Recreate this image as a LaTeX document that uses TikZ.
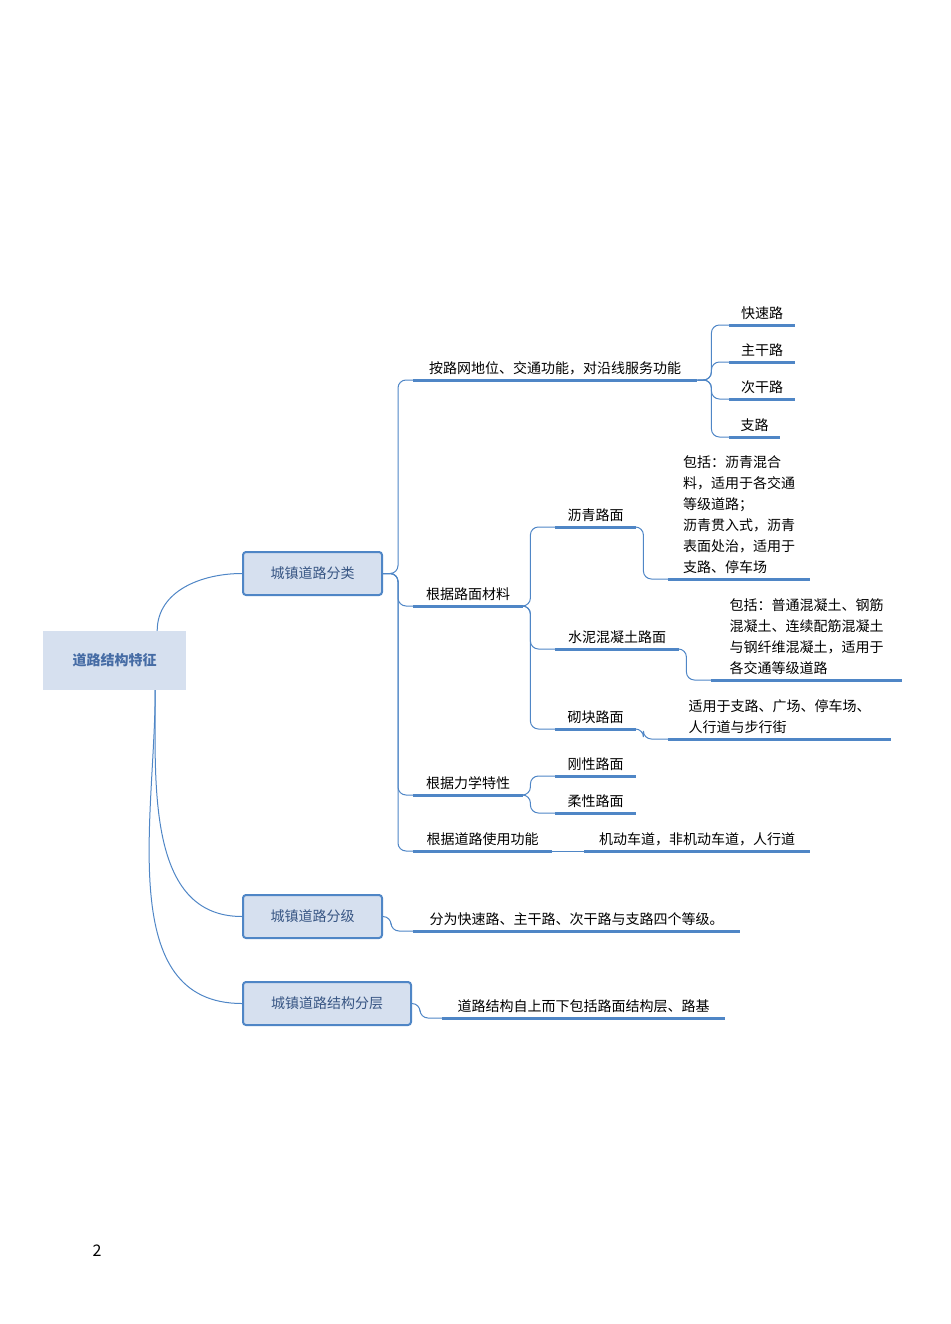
\documentclass[tikz,border=0pt]{standalone}
\usepackage{fontspec}
\setmainfont{Noto Sans CJK SC}
\usetikzlibrary{positioning}
\definecolor{lineblue}{RGB}{79,134,198}
\definecolor{boxfill}{RGB}{214,224,239}
\definecolor{rootblue}{RGB}{70,108,165}
\tikzset{
  base_font/.style = {font=\fontsize{14}{21}\selectfont},
  topic/.style = {base_font, anchor=south west, inner xsep=11, inner ysep=5, align=left, minimum width=#1},
  ul/.style = {draw=lineblue, line width=3},
  link/.style = {draw=lineblue, line width=1, rounded corners=8},
  curve/.style = {draw=lineblue, line width=1},
  mainbox/.style = {base_font, draw=lineblue, line width=2, fill=boxfill, rounded corners=3,
    minimum height=43, anchor=west, text=rootblue!80!black, inner xsep=24}
}
\begin{document}
\begin{tikzpicture}[x=1pt, y=-1pt]
  \useasboundingbox (0,0) rectangle (950,1324);

  % Root and first level
  \node[base_font, fill=boxfill, minimum width=143, minimum height=59, text=rootblue, font=\fontsize{14}{21}\selectfont\bfseries] (root) at (114.5,660.5) {道路结构特征};
  \node[mainbox, minimum width=139] (cls) at (242,573.5) {城镇道路分类};
  \node[mainbox, minimum width=139] (grd) at (242,916.5) {城镇道路分级};
  \node[mainbox, minimum width=168] (lay) at (242,1003.5) {城镇道路结构分层};

  \draw[curve] ([xshift=-29]root.north east) to[out=90,in=180] (cls.west);
  \draw[curve] ([xshift=-31]root.south east) to[out=-90,in=180] (grd.west);
  \draw[curve] ([xshift=-31]root.south east) to[out=-90,in=180] (lay.west);

  % Second level
  \node[topic=284] (net) at (413,380) {按路网地位、交通功能，对沿线服务功能};
  \node[topic=110] (mat) at (413,606) {根据路面材料};
  \node[topic=110] (mech) at (413,795) {根据力学特性};
  \node[topic=139] (use) at (413,851) {根据道路使用功能};
  \node[topic=327] (grdtxt) at (413,931) {分为快速路、主干路、次干路与支路四个等级。};
  \node[topic=283] (laytxt) at (442,1018) {道路结构自上而下包括路面结构层、路基};

  \foreach \n in {net,mat,mech,use,grdtxt,laytxt}
    \draw[ul] (\n.south west) -- (\n.south east);
  \foreach \n in {net,mat,mech,use}
    \draw[link] (cls.east) -- ++(15,0) |- (\n.south west);
  \draw[link] (grd.east) -- ++(8,0) |- (grdtxt.south west);
  \draw[link] (lay.east) -- ++(8,0) |- (laytxt.south west);

  % Road grades
  \node[topic=66] (r1) at (729,325) {快速路};
  \node[topic=66] (r2) at (729,362) {主干路};
  \node[topic=66] (r3) at (729,399) {次干路};
  \node[topic=51] (r4) at (729,437) {支路};
  \foreach \n in {r1,r2,r3,r4} {
    \draw[ul] (\n.south west) -- (\n.south east);
    \draw[link] (net.south east) -- ++(14,0) |- (\n.south west);
  }

  % Materials
  \node[topic=81] (asph) at (555,527) {沥青路面};
  \node[topic=124] (conc) at (555,649) {水泥混凝土路面};
  \node[topic=81] (blk) at (555,729) {砌块路面};
  \foreach \n in {asph,conc,blk} {
    \draw[ul] (\n.south west) -- (\n.south east);
    \draw[link] (mat.south east) -- ++(7,0) |- (\n.south west);
  }
  \node[topic=142] (asphtxt) at (668,579) {包括：沥青混合\\料，适用于各交通\\等级道路；\\沥青贯入式，沥青\\表面处治，适用于\\支路、停车场};
  \node[topic=191] (conctxt) at (711,680) {包括：普通混凝土、钢筋\\混凝土、连续配筋混凝土\\与钢纤维混凝土，适用于\\各交通等级道路};
  \node[topic=223] (blktxt) at (668,739) {适用于支路、广场、停车场、\\人行道与步行街};
  \foreach \a/\b in {asph/asphtxt,conc/conctxt,blk/blktxt} {
    \draw[ul] (\b.south west) -- (\b.south east);
    \draw[link] (\a.south east) -- ++(7,0) |- (\b.south west);
  }

  % Mechanics
  \node[topic=81] (rig) at (555,776) {刚性路面};
  \node[topic=81] (flex) at (555,813) {柔性路面};
  \foreach \n in {rig,flex} {
    \draw[ul] (\n.south west) -- (\n.south east);
    \draw[link] (mech.south east) -- ++(7,0) |- (\n.south west);
  }

  % Usage
  \node[topic=226] (lane) at (584,851) {机动车道，非机动车道，人行道};
  \draw[ul] (lane.south west) -- (lane.south east);
  \draw[link] (use.south east) -- (lane.south west);

  % Page number
  \node[font=\fontsize{16}{18}\selectfont] (page) at (97,1251) {2};
\end{tikzpicture}
\end{document}
